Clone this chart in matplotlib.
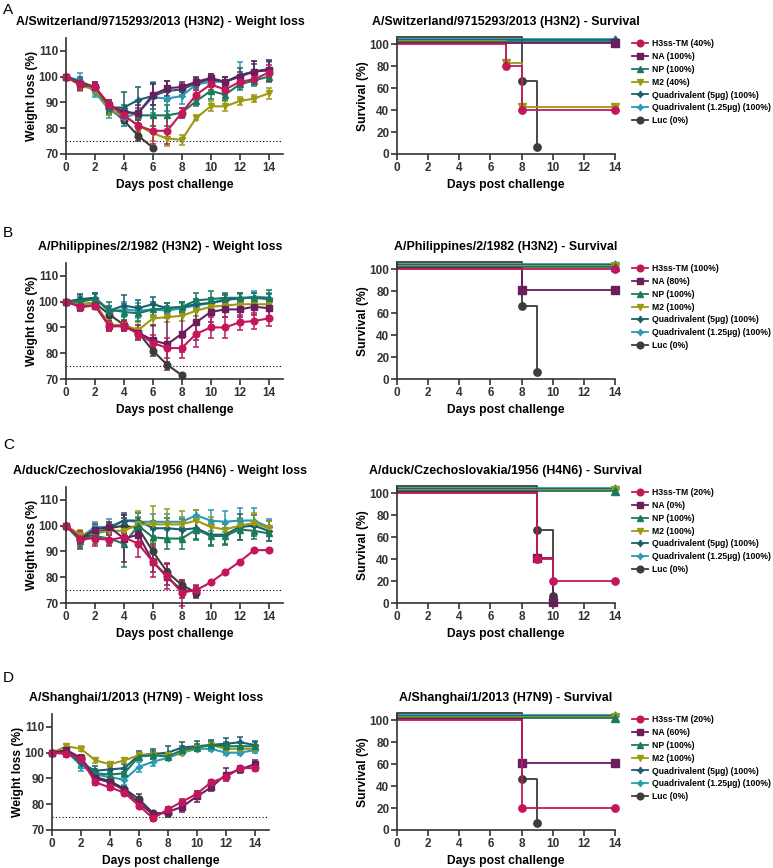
import matplotlib.pyplot as plt
import numpy as np
from matplotlib.lines import Line2D

plt.rcParams['font.family'] = ['Liberation Sans', 'DejaVu Sans']
plt.rcParams['font.weight'] = 'bold'
plt.rcParams['axes.labelweight'] = 'bold'

# groups (same order in every panel)
groups = ['H3ss-TM', 'NA', 'NP', 'M2', 'Quadrivalent (5µg)', 'Quadrivalent (1.25µg)', 'Luc']
colors = ['#C2185B', '#6B1D5E', '#1A7A5C', '#9C9A12', '#1D5E6E', '#2A9BB5', '#3C3C3C']
markers = ['o', 's', '^', 'v', (4, 1, 0), (4, 1, 0), 'o']
offsets = [0, 1, 2, 3, 4, 5, 6]  # prism-style stacking of survival lines

strains = ['A/Switzerland/9715293/2013 (H3N2)', 'A/Philippines/2/1982 (H3N2)',
           'A/duck/Czechoslovakia/1956 (H4N6)', 'A/Shanghai/1/2013 (H7N9)']
letters = ['A', 'B', 'C', 'D']

# percent survival shown in legends
pct_A = [40, 100, 100, 40, 100, 100, 0]
pct_B = [100, 80, 100, 100, 100, 100, 0]
pct_C = [20, 0, 100, 100, 100, 100, 0]
pct_D = [20, 60, 100, 100, 100, 100, 0]

# weight loss means (% of day 0), one list per group
wt_A = [
    [100, 97, 96, 89, 85, 81, 79, 79, 86, 93, 97, 95, 98, 99, 101.5],
    [100, 97, 96, 89, 86, 86, 93, 95.5, 96, 98, 99.5, 98, 100, 102, 102.5],
    [100, 97, 96, 88, 87, 85, 85, 85, 86, 90.5, 94.5, 93, 97, 98.5, 100],
    [100, 96.5, 95, 87, 85, 81, 78, 76, 75.5, 84, 88.5, 88.5, 90.5, 91.5, 93.5],
    [100, 98, 96, 88, 88, 91, 92.5, 94.5, 95, 97.5, 99, 98, 100.5, 102, 103],
    [100, 98.5, 94, 87, 84, 86, 92, 91.5, 92.5, 97, 98, 98, 100.5, 102, 102.5],
    [100, 97, 96, 88, 83, 77, 72.5],
]
sd_A = [
    [0, 2, 2, 2, 3, 3, 5, 5, 2, 2, 2, 2, 2, 2, 3],
    [0, 2, 2, 2, 2, 3, 4, 3, 2, 2, 1.5, 2, 2, 4, 4],
    [0, 1.5, 1.5, 2, 2, 3, 4, 4, 2, 2, 3, 2, 2, 2, 2],
    [0, 2, 2, 2, 2, 2, 3, 3, 2, 1, 2, 2, 1.5, 1.5, 2],
    [0, 2, 2, 3, 6, 5, 5, 4, 2, 2, 2, 2, 3, 3, 3],
    [0, 3, 2, 3, 3, 4, 6, 5, 3, 2, 2, 2, 5, 4, 3],
    [0, 1.5, 1.5, 2, 2, 2, 0],
]
wt_B = [
    [100, 98, 98.5, 90.5, 90.5, 87.5, 84, 82, 82, 87.5, 90, 90, 92, 92.5, 93.5],
    [100, 98, 98.5, 90.5, 90.5, 88, 85, 83.5, 87.5, 92, 96, 97, 97, 98, 97.5],
    [100, 100, 101, 97, 96, 95.5, 97, 97.5, 98, 100.5, 101, 101.5, 101.5, 101.5, 101.5],
    [100, 99, 99.5, 91, 91, 89, 93.5, 94, 94.5, 96.5, 98, 98.5, 99, 99, 99],
    [100, 101, 101.5, 96.5, 98.5, 97.5, 99, 97.5, 98, 99, 99.5, 100.5, 101.5, 101.5, 101],
    [100, 100.5, 101.5, 96, 97, 96.5, 97, 96.5, 97.5, 98.5, 99.5, 101, 101, 102, 101.5],
    [100, 99, 99.5, 95, 91, 88, 81, 75.5, 71.5],
]
sd_B = [
    [0, 1, 1, 2, 2, 2, 3, 4, 4, 5, 4, 4, 3, 3, 3],
    [0, 1.5, 1.5, 2, 2, 3, 6, 10, 7, 7, 4, 3, 3, 3, 3],
    [0, 2, 2, 3, 3, 3, 3, 2, 2, 3, 3, 2, 2, 2, 3],
    [0, 1, 1, 2, 2, 3, 3, 2, 2, 2, 2, 2, 2, 2, 2],
    [0, 2, 2, 2, 4, 3, 3, 2, 2, 2, 2, 2, 2, 2, 2],
    [0, 2, 2, 2, 3, 3, 2, 2, 2, 2, 2, 2, 2, 2, 2],
    [0, 1, 1, 1, 1, 1, 1, 1, 0],
]
wt_C = [
    [100, 95, 95, 94.5, 95.5, 93, 86, 80.5, 74, 75, 78, 82, 86, 90.5, 90.5],
    [100, 95, 98.5, 99.5, 95, 96.5, 86, 80, 75, 74.5],
    [100, 94, 96, 95, 93, 100, 95.5, 95, 95, 98.5, 96, 96, 98.5, 98, 97],
    [100, 96.5, 97, 98, 98, 100.5, 100.5, 100.5, 100.5, 102, 99.5, 98.5, 100, 101, 99],
    [100, 94.5, 97, 99, 102, 102, 99, 99, 98.5, 99, 96.5, 96.5, 99.5, 100, 98],
    [100, 95.5, 99.5, 99.5, 102, 101.5, 101.5, 101.5, 101.5, 104, 102, 101.5, 102, 102, 99.5],
    [100, 95, 97, 99, 100, 99, 90, 82, 77, 74],
]
sd_C = [
    [0, 3, 3, 2, 3, 5, 6, 5, 5, 2, 0, 0, 0, 0, 0],
    [0, 2, 2, 2, 9, 4, 4, 3, 3, 2],
    [0, 3, 3, 3, 9, 3, 4, 4, 4, 4, 4, 3, 4, 3, 3],
    [0, 2, 3, 3, 4, 5, 7, 6, 5, 4, 4, 3, 3, 4, 3],
    [0, 3, 3, 2, 3, 3, 3, 4, 4, 4, 4, 4, 5, 4, 4],
    [0, 2, 2, 3, 2, 2, 3, 3, 2, 2, 4, 4, 5, 5, 3],
    [0, 2, 2, 2, 3, 3, 3, 3, 2, 2],
]
wt_D = [
    [100, 99.5, 97.5, 88.5, 86.5, 84.5, 79.5, 74.5, 78, 81, 84, 88.5, 90.5, 94, 94],
    [100, 101, 98, 90, 88.5, 85.5, 80.5, 76, 77, 79, 83, 86.5, 91.5, 93.5, 95.5],
    [100, 100.5, 97, 92, 91.5, 92, 98.5, 99, 98.5, 101, 102, 103, 102.5, 102.5, 102.5],
    [100, 102.5, 101.5, 97, 95.5, 97, 99, 99, 99, 100, 102, 103, 101.5, 101.5, 101.5],
    [100, 100.5, 96, 93, 93.5, 94, 99, 99.5, 100, 102, 102.5, 103, 103.5, 104, 103],
    [100, 100.5, 95, 91.5, 90.5, 89.5, 94.5, 96.5, 98, 100, 101.5, 101.5, 100, 100, 101],
    [100, 100, 98, 90.5, 89, 86, 82, 76.5, 76.5],
]
sd_D = [
    [0, 1, 1, 1, 1, 1, 1, 1, 1, 1, 1, 1, 1, 1, 1],
    [0, 1, 1, 1, 1, 1, 1, 1, 2, 2, 2, 1.5, 2.5, 1.5, 1.5],
    [0, 1, 1, 1.5, 1.5, 1.5, 1.5, 1.5, 1.5, 1.5, 1.5, 1.5, 1.5, 1.5, 1.5],
    [0, 1, 1, 1, 1, 1, 1, 1, 1, 1, 1, 1, 1, 1, 1],
    [0, 1, 2, 2, 1.5, 1.5, 1.5, 2, 2.5, 2, 2, 2, 2, 2, 1.5],
    [0, 1, 2, 1.5, 1.5, 2, 2, 1.5, 1, 1, 1, 1, 1, 1, 1],
    [0, 1, 1, 1, 1, 1, 2, 1, 1],
]

# Kaplan-Meier curves: event days and survival (%)
full_t = [0, 14]
full_s = [100, 100]
surv_t_A = [[0, 7, 8, 14], full_t, full_t, [0, 7, 8, 14], full_t, full_t, [0, 8, 9]]
surv_s_A = [[100, 80, 40, 40], full_s, full_s, [100, 80, 40, 40], full_s, full_s, [100, 60, 0]]
surv_t_B = [full_t, [0, 8, 14], full_t, full_t, full_t, full_t, [0, 8, 9]]
surv_s_B = [full_s, [100, 80, 80], full_s, full_s, full_s, full_s, [100, 60, 0]]
surv_t_C = [[0, 9, 10, 14], [0, 9, 10], full_t, full_t, full_t, full_t, [0, 9, 10]]
surv_s_C = [[100, 40, 20, 20], [100, 40, 0], full_s, full_s, full_s, full_s, [100, 60, 0]]
surv_t_D = [[0, 8, 14], [0, 8, 14], full_t, full_t, full_t, full_t, [0, 8, 9]]
surv_s_D = [[100, 20, 20], [100, 60, 60], full_s, full_s, full_s, full_s, [100, 40, 0]]

panels = [
    (wt_A, sd_A, surv_t_A, surv_s_A, pct_A),
    (wt_B, sd_B, surv_t_B, surv_s_B, pct_B),
    (wt_C, sd_C, surv_t_C, surv_s_C, pct_C),
    (wt_D, sd_D, surv_t_D, surv_s_D, pct_D),
]

W, H = 773, 868
fig = plt.figure(figsize=(W / 100, H / 100), dpi=100)

axcol = '#333333'
row_bottom = [154, 379, 603, 830]
wt_left = [66, 66, 66, 52]
letter_y = [10, 233, 445, 678]
ax_h = 116


def style(ax):
    for s in ['top', 'right']:
        ax.spines[s].set_visible(False)
    for s in ['left', 'bottom']:
        ax.spines[s].set_linewidth(1.2)
        ax.spines[s].set_color(axcol)
    ax.tick_params(direction='out', length=4, width=1.2, color=axcol,
                   labelsize=8.5, labelcolor=axcol, pad=1.5)
    for lab in ax.get_xticklabels() + ax.get_yticklabels():
        lab.set_fontweight('bold')


draw_order = [6, 5, 4, 3, 2, 1, 0]

for r, (wt, sd, st, ss, pct) in enumerate(panels):
    bottom = 1 - row_bottom[r] / H
    top_px = row_bottom[r] - ax_h

    # weight loss
    ax = fig.add_axes([wt_left[r] / W, bottom, 217 / W, ax_h / H])
    ax.axhline(75, ls=(0, (1, 2)), color='k', lw=0.8)
    for i in draw_order:
        m = wt[i]
        x = np.arange(len(m))
        ax.errorbar(x, m, yerr=sd[i], color=colors[i], marker=markers[i], ms=4.8,
                    lw=1.5, elinewidth=1.1, capsize=2.3, capthick=1.1, clip_on=False)
    ax.set_xlim(0, 15)
    ax.set_ylim(70, 115)
    ax.set_xticks(range(0, 15, 2))
    ax.set_yticks([70, 80, 90, 100, 110])
    ax.set_xlabel('Days post challenge', fontsize=8.7, labelpad=4)
    ax.set_ylabel('Weight loss (%)', fontsize=8.7, labelpad=0.5)
    style(ax)
    cx = (wt_left[r] + 94) / W
    fig.text(cx, 1 - (top_px - 16) / H, strains[r] + ' - Weight loss',
             ha='center', va='center', fontsize=8.9, fontweight='bold')
    fig.text(3 / W, 1 - letter_y[r] / H, letters[r], ha='left', va='center',
             fontsize=11, fontweight='normal')

    # survival
    ax2 = fig.add_axes([397 / W, bottom, 218 / W, ax_h / H])
    handles = []
    for i in draw_order:
        t = np.array(st[i])
        s = np.array(ss[i]) + offsets[i]
        ax2.step(t, s, where='post', color=colors[i], lw=1.3, clip_on=False)
        ax2.plot(t[1:], s[1:], ls='none', marker=markers[i], ms=5.3,
                 color=colors[i], clip_on=False)
    for i in range(len(groups)):
        handles.append(Line2D([], [], color=colors[i], marker=markers[i], ms=4.8, lw=1.3,
                              label=f'{groups[i]} ({pct[i]}%)'))
    ax2.set_xlim(0, 14)
    ax2.set_ylim(0, 105.5)
    ax2.set_xticks(range(0, 15, 2))
    ax2.set_yticks(range(0, 101, 20))
    ax2.set_xlabel('Days post challenge', fontsize=8.7, labelpad=4)
    ax2.set_ylabel('Survival (%)', fontsize=8.7, labelpad=0.5)
    style(ax2)
    fig.text(506 / W, 1 - (top_px - 16) / H, strains[r] + ' - Survival',
             ha='center', va='center', fontsize=8.9, fontweight='bold')
    fig.legend(handles=handles, loc='upper left',
               bbox_to_anchor=(632 / W, 1 - (top_px + 1) / H),
               frameon=False, handlelength=1.9, handletextpad=0.4,
               labelspacing=0.45, borderpad=0, borderaxespad=0,
               prop={'weight': 'bold', 'size': 6.2})

fig.savefig('out.png', dpi=100)
